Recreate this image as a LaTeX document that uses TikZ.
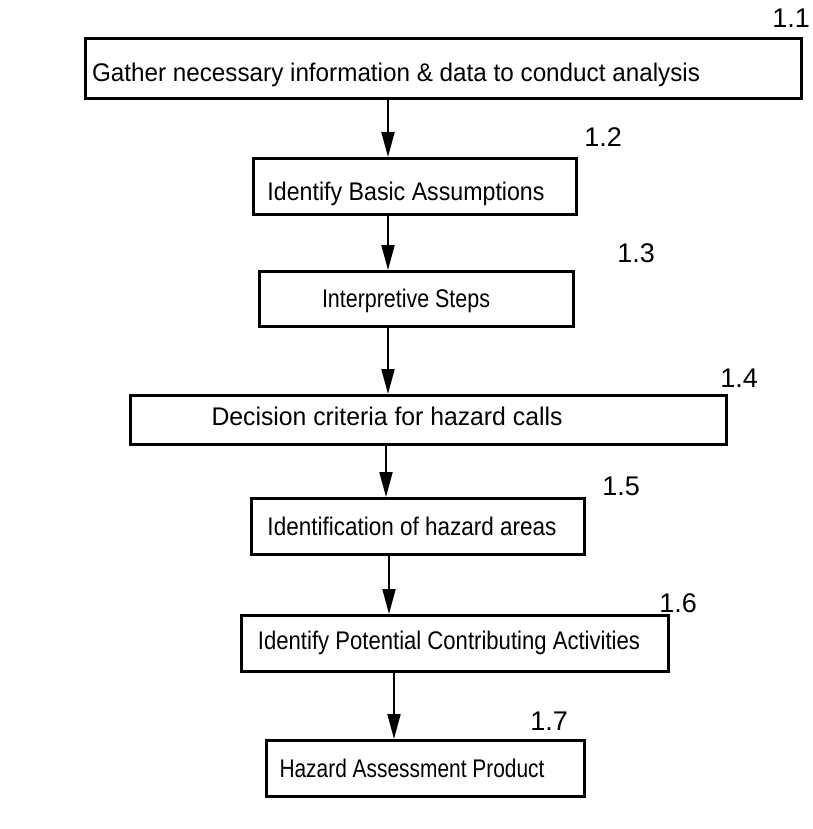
\documentclass[tikz,border=0pt]{standalone}
\usepackage{fontspec}
\usepackage{graphicx}
\setmainfont{Liberation Sans}
\usetikzlibrary{arrows.meta}
% set a line of text to a given width, keeping its height
\newcommand{\setwide}[2]{\resizebox{#1}{\height}{#2}}
\begin{document}
\begin{tikzpicture}[x=1pt,y=-1pt,
  stepbox/.style={draw=black, line width=2.8pt, inner sep=0pt, anchor=north west},
  steptext/.style={font=\fontsize{25.5}{30}\selectfont, inner sep=0pt, anchor=base},
  stepnum/.style={font=\fontsize{27}{32}\selectfont, inner sep=0pt, anchor=base east},
  flow/.style={draw=black, line width=2pt, -{Triangle[length=25pt,width=13pt]}}]
\useasboundingbox (0,0) rectangle (812,829);

% boxes (top-left corner, width x height)
\node[stepbox, minimum width=716pt, minimum height=60pt] (b1) at (84,37) {};
\node[stepbox, minimum width=323pt, minimum height=56pt] (b2) at (252,157) {};
\node[stepbox, minimum width=314pt, minimum height=55pt] (b3) at (258,270) {};
\node[stepbox, minimum width=596pt, minimum height=49pt] (b4) at (129,394) {};
\node[stepbox, minimum width=333pt, minimum height=56pt] (b5) at (250,497) {};
\node[stepbox, minimum width=427pt, minimum height=56pt] (b6) at (240,614) {};
\node[stepbox, minimum width=318pt, minimum height=56pt] (b7) at (265,739) {};

% box texts
\node[steptext] (t1) at (396,82) {\setwide{608pt}{Gather necessary information \& data to conduct analysis}};
\node[steptext] (t2) at (406,200) {\setwide{277pt}{Identify Basic Assumptions}};
\node[steptext] (t3) at (406,307) {\setwide{168pt}{Interpretive Steps}};
\node[steptext] (t4) at (387,425) {\setwide{351pt}{Decision criteria for hazard calls}};
\node[steptext] (t5) at (412,535) {\setwide{289pt}{Identification of hazard areas}};
\node[steptext] (t6) at (449,649) {\setwide{382pt}{Identify Potential Contributing Activities}};
\node[steptext] (t7) at (412,777) {\setwide{265pt}{Hazard Assessment Product}};

% step numbers
\node[stepnum] (n1) at (810,28) {1.1};
\node[stepnum] (n2) at (622,147) {1.2};
\node[stepnum] (n3) at (655,262) {1.3};
\node[stepnum] (n4) at (758,387) {1.4};
\node[stepnum] (n5) at (640,495) {1.5};
\node[stepnum] (n6) at (697,612) {1.6};
\node[stepnum] (n7) at (568,730) {1.7};

% connectors
\coordinate (x1) at (388,0);
\coordinate (x2) at (388,0);
\coordinate (x3) at (388,0);
\coordinate (x4) at (386,0);
\coordinate (x5) at (389,0);
\coordinate (x6) at (394,0);
\draw[flow] (b1.south -| x1) -- (b2.north -| x1);
\draw[flow] (b2.south -| x2) -- (b3.north -| x2);
\draw[flow] (b3.south -| x3) -- (b4.north -| x3);
\draw[flow] (b4.south -| x4) -- (b5.north -| x4);
\draw[flow] (b5.south -| x5) -- (b6.north -| x5);
\draw[flow] (b6.south -| x6) -- (b7.north -| x6);
\end{tikzpicture}
\end{document}
